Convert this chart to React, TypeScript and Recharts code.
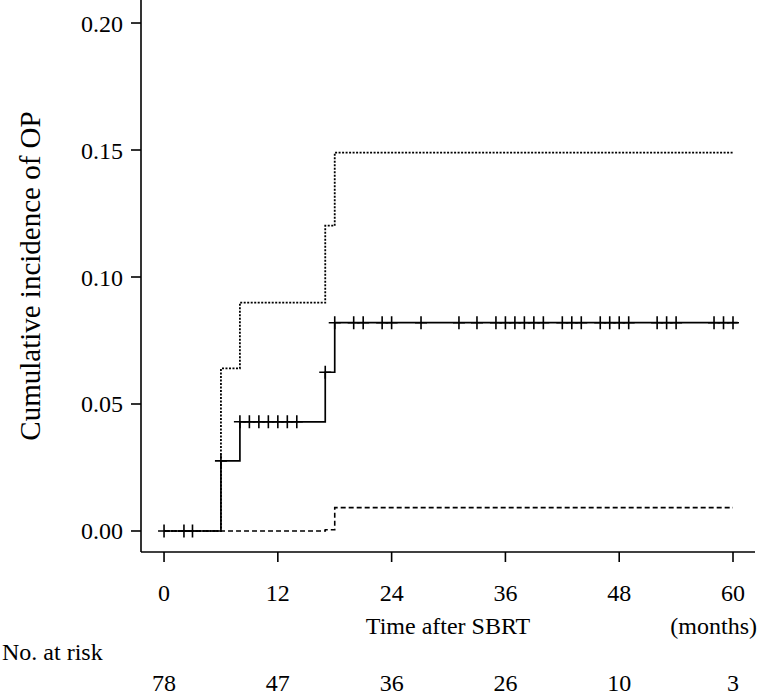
import React from 'react';
import { ComposedChart, Line, Scatter, XAxis, YAxis } from 'recharts';

// Step functions (time in months, cumulative incidence)
const solidSteps = [
  { x: 0, y: 0 },
  { x: 6.0, y: 0.0276 },
  { x: 8.0, y: 0.043 },
  { x: 17.0, y: 0.0625 },
  { x: 18.0, y: 0.082 },
  { x: 60.5, y: 0.082 },
];
const upperSteps = [
  { x: 0, y: 0 },
  { x: 6.0, y: 0.064 },
  { x: 8.0, y: 0.0899 },
  { x: 17.0, y: 0.1202 },
  { x: 18.0, y: 0.149 },
  { x: 60.0, y: 0.149 },
];
const lowerSteps = [
  { x: 0, y: 0 },
  { x: 17.0, y: 0.0005 },
  { x: 18.0, y: 0.0092 },
  { x: 60.0, y: 0.0092 },
];
const censorTimes = [
  0, 2.1, 3, 6, 8, 9, 10, 11, 12, 13, 14, 17, 18, 20, 21, 23, 24, 27.1, 31.1, 33, 35, 36, 37, 38,
  39, 40, 42, 43, 44, 46, 47, 48, 49, 52, 53, 54, 58, 59, 60,
];
const xTicks = [0, 12, 24, 36, 48, 60];
const yTicks = [0, 0.05, 0.1, 0.15, 0.2];
const atRisk = [78, 47, 36, 26, 10, 3];
const yLabel = 'Cumulative incidence of OP';
const xLabel = 'Time after SBRT';
const unitLabel = '(months)';
const riskLabel = 'No. at risk';

const levelAt = (t: number) => {
  let v = 0;
  for (const s of solidSteps) if (s.x <= t) v = s.y;
  return v;
};
const censorData = censorTimes.map((t) => ({ x: t, y: levelAt(t) }));

const FONT = '"Liberation Serif", "Times New Roman", serif';

const CrossShape = (props: any) => {
  const { cx, cy } = props;
  if (cx == null || cy == null) return null;
  return (
    <path
      d={`M${cx - 6},${cy}H${cx + 6}M${cx},${cy - 6.5}V${cy + 6.5}`}
      stroke="#000"
      strokeWidth={1.6}
      fill="none"
    />
  );
};

const XTick = (props: any) => {
  const { x, y, payload, index } = props;
  return (
    <g>
      <text x={x} y={y + 37} textAnchor="middle" fontFamily={FONT} fontSize={24} fill="#000">
        {payload.value}
      </text>
      <text x={x} y={y + 127} textAnchor="middle" fontFamily={FONT} fontSize={24} fill="#000">
        {atRisk[index]}
      </text>
    </g>
  );
};

const YTick = (props: any) => {
  const { x, y, payload } = props;
  return (
    <text x={x - 6} y={y + 8.5} textAnchor="end" fontFamily={FONT} fontSize={24} fill="#000">
      {Number(payload.value).toFixed(2)}
    </text>
  );
};

const XLabel = (props: any) => {
  const vb = props.viewBox || { x: 141, y: 552, width: 614, height: 146 };
  const cx = vb.x + vb.width / 2;
  return (
    <g>
      <text x={cx} y={vb.y + 82} textAnchor="middle" fontFamily={FONT} fontSize={24} fill="#000">
        {xLabel}
      </text>
      <text x={vb.x + vb.width + 2} y={vb.y + 82} textAnchor="end" fontFamily={FONT} fontSize={24} fill="#000">
        {unitLabel}
      </text>
      <text x={2} y={vb.y + 108} textAnchor="start" fontFamily={FONT} fontSize={24} fill="#000">
        {riskLabel}
      </text>
    </g>
  );
};

const YLabel = (props: any) => {
  const vb = props.viewBox || { x: 0, y: 0, width: 141, height: 552 };
  const cx = 30;
  const cy = vb.y + vb.height / 2;
  return (
    <text
      x={cx}
      y={cy}
      transform={`rotate(-90, ${cx}, ${cy})`}
      textAnchor="middle"
      dominantBaseline="central"
      fontFamily={FONT}
      fontSize={29}
      fill="#000"
    >
      {yLabel}
    </text>
  );
};

export default function App() {
  return (
    <div style={{ position: 'absolute', left: 0, top: 0, width: 760, height: 698, background: '#fff' }}>
      <ComposedChart width={760} height={698} margin={{ top: 0, right: 5, bottom: 0, left: 0 }}>
        <XAxis
          type="number"
          dataKey="x"
          domain={[-2.43, 62.32]}
          allowDataOverflow
          ticks={xTicks}
          height={146}
          tickSize={10}
          tick={<XTick />}
          axisLine={{ stroke: '#000', strokeWidth: 1.6 }}
          tickLine={{ stroke: '#000', strokeWidth: 1.6 }}
          label={<XLabel />}
          interval={0}
        />
        <YAxis
          type="number"
          dataKey="y"
          domain={[-0.00827, 0.20906]}
          allowDataOverflow
          ticks={yTicks}
          width={141}
          tickSize={10}
          tick={<YTick />}
          axisLine={{ stroke: '#000', strokeWidth: 1.6 }}
          tickLine={{ stroke: '#000', strokeWidth: 1.6 }}
          label={<YLabel />}
          interval={0}
        />
        <Line
          data={lowerSteps}
          dataKey="y"
          type="stepAfter"
          stroke="#000"
          strokeWidth={1.6}
          strokeDasharray="5 3"
          dot={false}
          activeDot={false}
          isAnimationActive={false}
        />
        <Line
          data={upperSteps}
          dataKey="y"
          type="stepAfter"
          stroke="#000"
          strokeWidth={1.8}
          strokeDasharray="2 1.5"
          dot={false}
          activeDot={false}
          isAnimationActive={false}
        />
        <Line
          data={solidSteps}
          dataKey="y"
          type="stepAfter"
          stroke="#000"
          strokeWidth={1.7}
          dot={false}
          activeDot={false}
          isAnimationActive={false}
        />
        <Scatter data={censorData} dataKey="y" shape={<CrossShape />} isAnimationActive={false} />
      </ComposedChart>
    </div>
  );
}
